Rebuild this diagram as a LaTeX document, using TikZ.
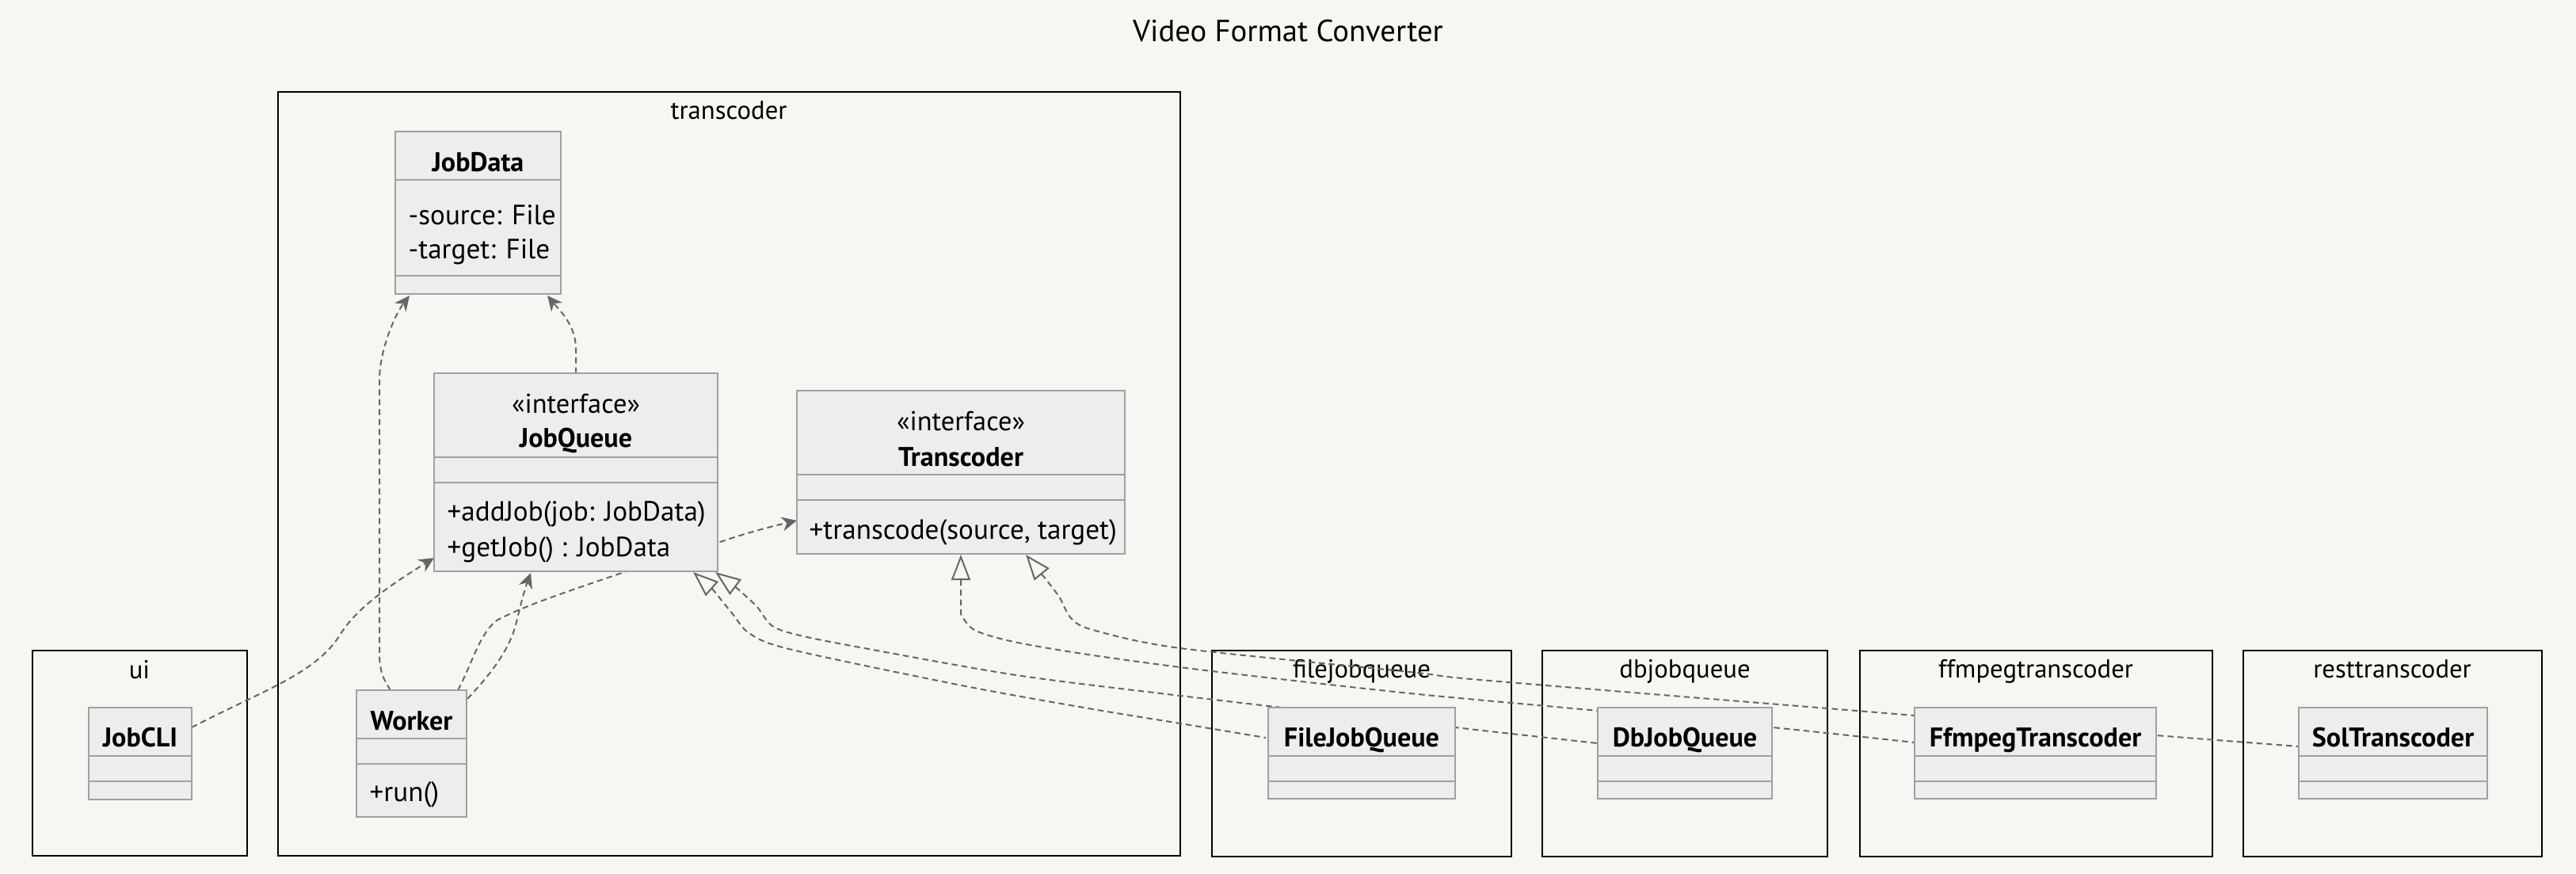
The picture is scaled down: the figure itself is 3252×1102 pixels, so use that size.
\documentclass[tikz,border=0pt]{standalone}
\usepackage{fontspec}
\setmainfont{PT Sans}
\usetikzlibrary{arrows.meta,calc,fit}
\definecolor{bgcol}{HTML}{F7F6F3}
\definecolor{clsfill}{HTML}{EDEDED}
\definecolor{clsborder}{HTML}{A0A0A0}
\definecolor{edgecol}{HTML}{666666}
\pgfdeclarelayer{bglayer}
\pgfdeclarelayer{edges}
\pgfsetlayers{bglayer,edges,main}
\begin{document}
\begin{tikzpicture}[x=0.01cm, y=-0.01cm,
  pkg/.style={draw=black, line width=0.025cm, inner sep=0, outer sep=0},
  pkglabel/.style={font=\fontsize{9.3pt}{11pt}\selectfont, anchor=base, inner sep=0},
  cls/.style={draw=clsborder, fill=clsfill, line width=0.02cm, inner sep=0, outer sep=0},
  sepline/.style={draw=clsborder, line width=0.02cm},
  cname/.style={font=\fontsize{9.7pt}{11pt}\selectfont\bfseries, anchor=base, inner sep=0},
  ctext/.style={font=\fontsize{10pt}{12pt}\selectfont, anchor=base west, inner sep=0},
  stereo/.style={font=\fontsize{9.8pt}{11pt}\selectfont, anchor=base, inner sep=0},
  edge/.style={draw=edgecol, line width=0.02cm, dash pattern=on 0.075cm off 0.05cm},
  dep/.style={edge, -{Stealth[length=0.19cm, width=0.18cm, inset=0.06cm]}},
  real/.style={edge, {Triangle[length=0.32cm, width=0.24cm, fill=bgcol]}-},
]
\begin{pgfonlayer}{bglayer}
\fill[bgcol] (0,0) rectangle (3252,1102);
\end{pgfonlayer}
\useasboundingbox (0,0) rectangle (3252,1102);

\node[font=\fontsize{11pt}{13pt}\selectfont, anchor=base, inner sep=0] (title) at (1626,52) {Video Format Converter};

% packages
\begin{pgfonlayer}{bglayer}
\node[pkg, fit={(41,821) (312,1080)}] (pui) {};
\node[pkglabel] (puiL) at (176,856) {ui};
\node[pkg, fit={(351,116) (1490,1080)}] (ptrans) {};
\node[pkglabel] (ptransL) at (920,150) {transcoder};
\node[pkg, fit={(1530,821) (1908,1081)}] (pfile) {};
\node[pkglabel] (pfileL) at (1719,855) {filejobqueue};
\node[pkg, fit={(1947,821) (2307,1081)}] (pdb) {};
\node[pkglabel] (pdbL) at (2127,855) {dbjobqueue};
\node[pkg, fit={(2348,821) (2793,1081)}] (pff) {};
\node[pkglabel] (pffL) at (2570,855) {ffmpegtranscoder};
\node[pkg, fit={(2832,821) (3209,1081)}] (prest) {};
\node[pkglabel] (prestL) at (3020,855) {resttranscoder};
\end{pgfonlayer}

% JobData
\node[cls, fit={(499,166) (708,371)}] (JobData) {};
\draw[sepline] (499,227) -- (708,227) (499,348) -- (708,348);
\node[cname] (JobDataN) at (603.5,216) {JobData};
\node[ctext] (JobDataA1) at (515,283) {-source: File};
\node[ctext] (JobDataA2) at (515,326) {-target: File};

% JobQueue
\node[cls, fit={(548,471) (906,721)}] (JobQueue) {};
\draw[sepline] (548,577) -- (906,577) (548,609) -- (906,609);
\node[stereo] (JobQueueS) at (727,521) {«interface»};
\node[cname] (JobQueueN) at (727,564) {JobQueue};
\node[ctext] (JobQueueM1) at (564,657) {+addJob(job: JobData)};
\node[ctext] (JobQueueM2) at (564,702) {+getJob() : JobData};

% Transcoder
\node[cls, fit={(1006,493) (1420,699)}] (Transcoder) {};
\draw[sepline] (1006,599) -- (1420,599) (1006,631) -- (1420,631);
\node[stereo] (TranscoderS) at (1213,543) {«interface»};
\node[cname] (TranscoderN) at (1213,588) {Transcoder};
\node[ctext] (TranscoderM1) at (1021,680) {+transcode(source, target)};

% Worker
\node[cls, fit={(450,871) (589,1031)}] (Worker) {};
\draw[sepline] (450,932) -- (589,932) (450,964) -- (589,964);
\node[cname] (WorkerN) at (519.5,921) {Worker};
\node[ctext] (WorkerM1) at (466,1011) {+run()};

% JobCLI
\node[cls, fit={(112,893) (242,1009)}] (JobCLI) {};
\draw[sepline] (112,954) -- (242,954) (112,986) -- (242,986);
\node[cname] (JobCLIN) at (177,942) {JobCLI};

% FileJobQueue
\node[cls, fit={(1601,893) (1837,1008)}] (FileJobQueue) {};
\draw[sepline] (1601,954) -- (1837,954) (1601,986) -- (1837,986);
\node[cname] (FileJobQueueN) at (1719,942) {FileJobQueue};

% DbJobQueue
\node[cls, fit={(2017,893) (2237,1008)}] (DbJobQueue) {};
\draw[sepline] (2017,954) -- (2237,954) (2017,986) -- (2237,986);
\node[cname] (DbJobQueueN) at (2127,942) {DbJobQueue};

% FfmpegTranscoder
\node[cls, fit={(2417,893) (2722,1008)}] (FfmpegTranscoder) {};
\draw[sepline] (2417,954) -- (2722,954) (2417,986) -- (2722,986);
\node[cname] (FfmpegTranscoderN) at (2569.5,942) {FfmpegTranscoder};

% SolTranscoder
\node[cls, fit={(2902,893) (3140,1008)}] (SolTranscoder) {};
\draw[sepline] (2902,954) -- (3140,954) (2902,986) -- (3140,986);
\node[cname] (SolTranscoderN) at (3021,942) {SolTranscoder};

% edges
\begin{pgfonlayer}{edges}
% Worker -> JobData
\draw[dep] ($(Worker.north west)+(43,0)$) .. controls (486,860) and (479,850) .. (479,825)
   -- (479,480) .. controls (479,440) and (500,395) .. ($(JobData.south west)+(18,2)$);
% JobQueue -> JobData
\draw[dep] ($(JobQueue.north west)+(179,0)$) -- (727,440) .. controls (727,410) and (705,390) .. ($(JobData.south east)+(-17,2)$);
% JobCLI -> JobQueue
\draw[dep] ($(JobCLI.north east)+(0,25)$) .. controls (330,872) and (400,850) .. (430,800)
   .. controls (450,768) and (490,740) .. ($(JobQueue.south west)+(0,-17)$);
% Worker -> JobQueue
\draw[dep] ($(Worker.north east)+(1,11)$) .. controls (625,845) and (645,815) .. (652,785)
   .. controls (658,760) and (662,745) .. ($(JobQueue.south west)+(122,2)$);
% Worker -> Transcoder
\draw[dep] ($(Worker.north west)+(128,0)$) .. controls (595,840) and (605,800) .. (627,783)
   .. controls (660,765) and (720,745) .. (800,718) -- (909,684)
   .. controls (950,670) and (980,663) .. ($(Transcoder.north west)+(0,164)$);
% FileJobQueue realizes JobQueue
\draw[real] ($(JobQueue.south east)+(-31,1)$) -- plot[smooth, tension=0.5] coordinates
   {(900,744) (925,775) (947,800) (1000,820) (1219,866) (1380,895) (1490,913) ($(FileJobQueue.north west)+(-3,38)$)};
% DbJobQueue realizes JobQueue
\draw[real] ($(JobQueue.south east)+(-3,1)$) -- plot[smooth, tension=0.5] coordinates
   {(930,742) (955,765) (975,790) (1010,802) (1091,818) (1283,852) (1490,878) (1837,918) ($(DbJobQueue.north west)+(0,45)$)};
% FfmpegTranscoder realizes Transcoder
\draw[real] ($(Transcoder.south west)+(207,1)$) -- (1213,734) -- plot[smooth, tension=0.5] coordinates
   {(1213,775) (1230,795) (1280,810) (1380,827) (1530,847) (1780,875) (2018,897) (2238,918) ($(FfmpegTranscoder.north west)+(0,44)$)};
% SolTranscoder realizes Transcoder
\draw[real] ($(Transcoder.south west)+(289,1)$) -- plot[smooth, tension=0.5] coordinates
   {(1317,727) (1337,753) (1352,780) (1380,795) (1490,818) (1780,848) (1880,859) (2418,903) (2722,928) ($(SolTranscoder.north west)+(0,49)$)};
\end{pgfonlayer}
\end{tikzpicture}
\end{document}
